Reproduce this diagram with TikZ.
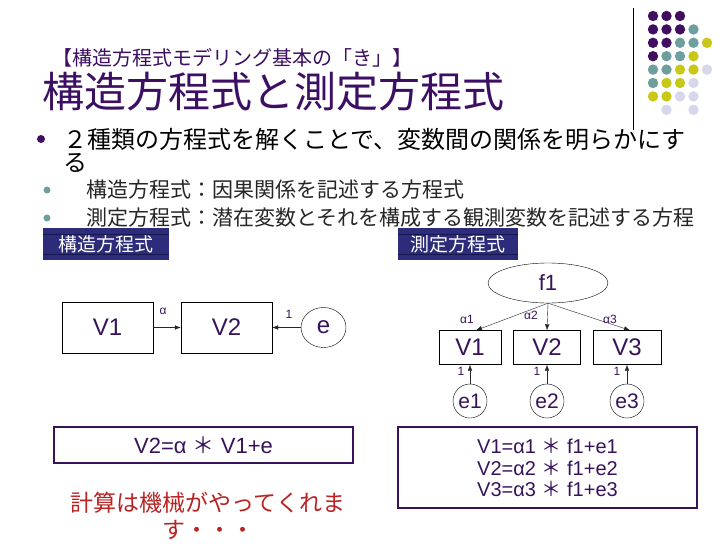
\documentclass[tikz,border=0pt]{standalone}
\usepackage{fontspec}
\setmainfont{Liberation Sans}
\newfontfamily\jp{Noto Sans CJK JP}
\usetikzlibrary{arrows.meta,shapes.geometric}
\definecolor{ink}{RGB}{55,20,90}
\definecolor{titlepurple}{RGB}{60,15,100}
\definecolor{dotpurple}{RGB}{65,15,95}
\definecolor{dotteal}{RGB}{110,158,158}
\definecolor{dotyellow}{RGB}{200,200,25}
\definecolor{dotlilac}{RGB}{215,215,235}
\definecolor{headnavy}{RGB}{44,44,122}
\definecolor{headline}{RGB}{22,22,80}
\definecolor{calcred}{RGB}{185,35,35}

\begin{document}
\begin{tikzpicture}[x=1pt,y=-1pt,
  obsbox/.style={draw,rectangle,minimum height=34pt,inner sep=0pt,text=ink,font=\fontsize{24}{24}\selectfont},
  errnode/.style={draw,ellipse,minimum width=34pt,minimum height=34pt,inner sep=0pt,text=ink,font=\fontsize{21}{21}\selectfont},
  coef/.style={text=ink,inner sep=0pt,font=\fontsize{12}{12}\selectfont},
  arr/.style={-{Latex[length=6pt,width=4.5pt]},black!85},
  header/.style={fill=headnavy,minimum height=32pt,inner sep=0pt,text=white,font=\jp\fontsize{19}{19}\selectfont},
  eqbox/.style={draw=ink,line width=1.2pt,inner sep=0pt,text=ink,align=center}]
\fill[white] (0,0) rectangle (728,546);
\useasboundingbox (0,0) rectangle (728,546);

\draw (633,8) -- (633,130);
\foreach \c/\r in {1/1,2/1,3/1,1/2,2/2,3/2,1/3,2/3,1/4}
  \fill[dotpurple] (639.5+13.5*\c,2.6+13.4*\r) circle (5.2pt);
\foreach \c/\r in {4/2,3/3,4/3,2/4,3/4,1/5,2/5,1/6}
  \fill[dotteal] (639.5+13.5*\c,2.6+13.4*\r) circle (5.2pt);
\foreach \c/\r in {5/3,4/4,3/5,4/5,2/6,3/6,1/7,2/7}
  \fill[dotyellow] (639.5+13.5*\c,2.6+13.4*\r) circle (5.2pt);
\foreach \c/\r in {5/5,4/6,3/7,4/7,2/8,4/8}
  \fill[dotlilac] (639.5+13.5*\c,2.6+13.4*\r) circle (5.2pt);

\node[anchor=west,inner sep=0pt,text=titlepurple,font=\jp\fontsize{20}{20}\selectfont] (sub) at (52,58) {【構造方程式モデリング基本の「き」】};
\node[anchor=west,inner sep=0pt,text=titlepurple,font=\jp\fontsize{42}{42}\selectfont] (title) at (42,92) {構造方程式と測定方程式};

\fill[dotpurple] (41,139) circle (4pt);
\node[anchor=west,inner sep=0pt,font=\jp\fontsize{24}{24}\selectfont] (b1) at (63,139) {２種類の方程式を解くことで、変数間の関係を明らかにす};
\node[anchor=west,inner sep=0pt,font=\jp\fontsize{24}{24}\selectfont] (b1b) at (63,163) {る};
\fill[dotteal] (47,190) circle (3.5pt);
\node[anchor=west,inner sep=0pt,text=black!85,font=\jp\fontsize{21}{21}\selectfont] (s1) at (86,190) {構造方程式：因果関係を記述する方程式};
\fill[dotteal] (47,218) circle (3.5pt);
\node[anchor=west,inner sep=0pt,text=black!85,font=\jp\fontsize{21}{21}\selectfont] (s2) at (86,218) {測定方程式：潜在変数とそれを構成する観測変数を記述する方程};

\node[header,minimum width=126pt] (hdL) at (106,244) {構造方程式};
\node[header,minimum width=120pt] (hdR) at (458,244) {測定方程式};
\draw[headline] ([yshift=10pt]hdL.west) -- ([yshift=10pt]hdL.east);
\draw[headline] ([yshift=-10pt]hdL.west) -- ([yshift=-10pt]hdL.east);
\draw[headline] ([yshift=10pt]hdR.west) -- ([yshift=10pt]hdR.east);
\draw[headline] ([yshift=-10pt]hdR.west) -- ([yshift=-10pt]hdR.east);

\node[obsbox,minimum width=91pt,minimum height=51pt] (sv1) at (107.5,327.5) {V1};
\node[obsbox,minimum width=91pt,minimum height=51pt] (sv2) at (226.5,327.5) {V2};
\node[errnode,minimum width=45pt,minimum height=40pt,font=\fontsize{24}{24}\selectfont] (se) at (323.5,327.5) {e};
\draw[arr] (sv1) -- (sv2);
\draw[arr] (se) -- (sv2);
\node[coef] (sa) at (163,311) {α};
\node[coef] (s1w) at (289,314) {1};

\node[errnode,minimum width=120pt,minimum height=40pt,font=\fontsize{22}{22}\selectfont] (f1) at (548,283) {f1};
\node[obsbox,minimum width=62pt] (mv1) at (470,347.5) {V1};
\node[obsbox,minimum width=67pt] (mv2) at (547,347.5) {V2};
\node[obsbox,minimum width=68pt] (mv3) at (627,347.5) {V3};
\node[errnode] (me1) at (470,401) {e1};
\node[errnode] (me2) at (547,401) {e2};
\node[errnode] (me3) at (627,401) {e3};
\draw[arr] (f1.south) -- ([xshift=6pt]mv1.north);
\draw[arr] (f1.south) -- (mv2.north);
\draw[arr] (f1.south) -- ([xshift=3pt]mv3.north);
\draw[arr] (me1) -- (mv1);
\draw[arr] (me2) -- (mv2);
\draw[arr] (me3) -- (mv3);
\node[coef] (ma1) at (467,319) {α1};
\node[coef] (ma2) at (531,315) {α2};
\node[coef] (ma3) at (610,319) {α3};
\node[coef] (mw1) at (461,371) {1};
\node[coef] (mw2) at (537,371) {1};
\node[coef] (mw3) at (617,371) {1};

\node[eqbox,minimum width=299pt,minimum height=36pt,font=\fontsize{22}{22}\selectfont] (eqL) at (203.5,445) {V2=α {\jp ＊} V1+e};
\node[eqbox,minimum width=299pt,minimum height=81pt,font=\fontsize{20}{21.5}\selectfont] (eqR) at (547.5,467.5) {V1=α1 {\jp ＊} f1+e1\\V2=α2 {\jp ＊} f1+e2\\V3=α3 {\jp ＊} f1+e3};

\node[align=center,inner sep=0pt,text=calcred,font=\jp\fontsize{23}{27}\selectfont] (calc) at (208,516) {計算は機械がやってくれま\\す・・・};
\end{tikzpicture}
\end{document}
